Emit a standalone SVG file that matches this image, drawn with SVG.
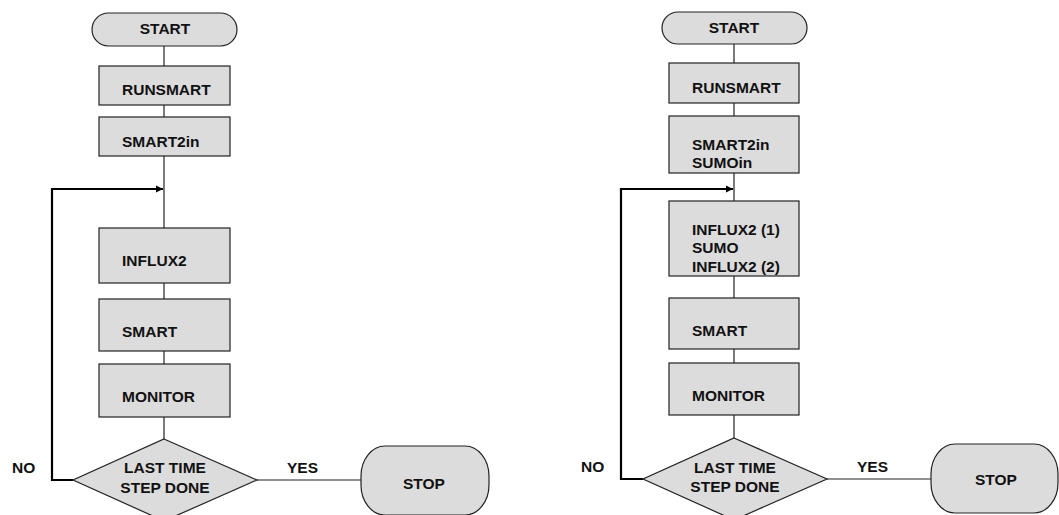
<svg xmlns="http://www.w3.org/2000/svg" width="1059" height="515" viewBox="0 0 1059 515">
<defs>
<style>
.box{fill:#dcdcdc;stroke:#222;stroke-width:1.2}
.t{font-family:"Liberation Sans",Arial,sans-serif;font-weight:bold;font-size:15.5px;fill:#111}
.c{text-anchor:middle}
.ln{stroke:#222;stroke-width:1.2;fill:none}
.loop{stroke:#000;stroke-width:2.2;fill:none}
</style>
<marker id="arr" markerWidth="8" markerHeight="8" refX="7" refY="4" orient="auto" markerUnits="userSpaceOnUse">
<path d="M0,0.5 L7,4 L0,7.5 Z" fill="#000"/>
</marker>
</defs>
<rect width="1059" height="515" fill="#fff"/>

<g id="connectors">
<!-- left -->
<line class="ln" x1="164" y1="46" x2="164" y2="66"/>
<line class="ln" x1="164" y1="105" x2="164" y2="117"/>
<line class="ln" x1="164" y1="156" x2="164" y2="228"/>
<line class="ln" x1="164" y1="283" x2="164" y2="299"/>
<line class="ln" x1="164" y1="351" x2="164" y2="364"/>
<line class="ln" x1="164" y1="417" x2="164" y2="439"/>
<line class="ln" x1="257" y1="480" x2="361" y2="480"/>
<polyline class="loop" points="73,480 52,480 52,189 163,189" marker-end="url(#arr)"/>
<!-- right -->
<line class="ln" x1="734" y1="44" x2="734" y2="63"/>
<line class="ln" x1="734" y1="103" x2="734" y2="116"/>
<line class="ln" x1="734" y1="173" x2="734" y2="201"/>
<line class="ln" x1="734" y1="276" x2="734" y2="298"/>
<line class="ln" x1="734" y1="349" x2="734" y2="363"/>
<line class="ln" x1="734" y1="415" x2="734" y2="438"/>
<line class="ln" x1="827" y1="479" x2="931" y2="479"/>
<polyline class="loop" points="643,479 621,479 621,189 733,189" marker-end="url(#arr)"/>
</g>

<!-- LEFT FLOWCHART -->
<g id="l-start"><rect class="box" x="92" y="13" width="145" height="33" rx="16.5" ry="16.5"/><text class="t c" x="165" y="34">START</text></g>
<g id="l-runsmart"><rect class="box" x="99" y="66" width="131" height="39"/><text class="t" x="122" y="95">RUNSMART</text></g>
<g id="l-smart2in"><rect class="box" x="99" y="117" width="131" height="39"/><text class="t" x="122" y="147">SMART2in</text></g>
<g id="l-influx2"><rect class="box" x="99" y="228" width="131" height="55"/><text class="t" x="122" y="266">INFLUX2</text></g>
<g id="l-smart"><rect class="box" x="99" y="299" width="131" height="52"/><text class="t" x="122" y="337">SMART</text></g>
<g id="l-monitor"><rect class="box" x="99" y="364" width="131" height="53"/><text class="t" x="122" y="402">MONITOR</text></g>
<g id="l-decision"><polygon class="box" points="164,439 257,480 164,521 73,480"/><text class="t c" x="165" y="473">LAST TIME</text><text class="t c" x="165" y="493">STEP DONE</text></g>
<g id="l-stop"><rect class="box" x="361" y="446" width="128" height="69" rx="24" ry="30"/><text class="t c" x="424" y="489">STOP</text></g>
<g id="l-labels"><text class="t" x="12" y="473">NO</text><text class="t" x="287" y="473">YES</text></g>

<!-- RIGHT FLOWCHART -->
<g id="r-start"><rect class="box" x="662" y="12" width="145" height="32" rx="16" ry="16"/><text class="t c" x="734" y="33">START</text></g>
<g id="r-runsmart"><rect class="box" x="669" y="63" width="130" height="40"/><text class="t" x="692" y="93">RUNSMART</text></g>
<g id="r-smart2in"><rect class="box" x="669" y="116" width="130" height="57"/><text class="t" x="692" y="150">SMART2in</text><text class="t" x="692" y="168">SUMOin</text></g>
<g id="r-influx2"><rect class="box" x="669" y="201" width="130" height="75"/><text class="t" x="692" y="235">INFLUX2 (1)</text><text class="t" x="692" y="253">SUMO</text><text class="t" x="692" y="272">INFLUX2 (2)</text></g>
<g id="r-smart"><rect class="box" x="669" y="298" width="130" height="51"/><text class="t" x="692" y="336">SMART</text></g>
<g id="r-monitor"><rect class="box" x="669" y="363" width="130" height="52"/><text class="t" x="692" y="401">MONITOR</text></g>
<g id="r-decision"><polygon class="box" points="734,438 827,479 734,520 643,479"/><text class="t c" x="735" y="473">LAST TIME</text><text class="t c" x="735" y="492">STEP DONE</text></g>
<g id="r-stop"><rect class="box" x="931" y="444" width="127" height="69" rx="24" ry="30"/><text class="t c" x="996" y="485">STOP</text></g>
<g id="r-labels"><text class="t" x="581" y="472">NO</text><text class="t" x="857" y="472">YES</text></g>
</svg>
